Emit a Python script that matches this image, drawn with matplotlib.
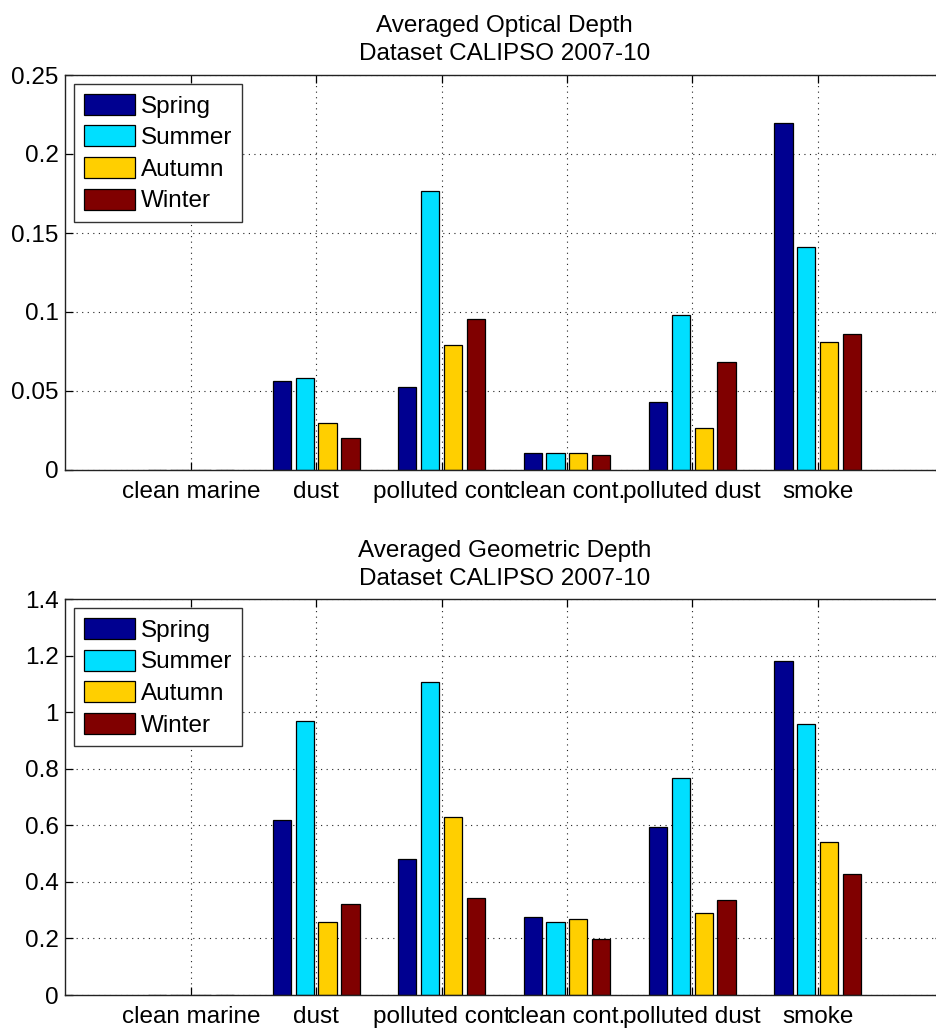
import matplotlib
matplotlib.use("Agg")
import matplotlib.pyplot as plt
import numpy as np

plt.rcParams['font.family'] = ['Liberation Sans', 'DejaVu Sans']

categories = ["clean marine", "dust", "polluted cont", "clean cont.", "polluted dust", "smoke"]
seasons = ["Spring", "Summer", "Autumn", "Winter"]
season_colors = ["#000090", "#00DFFF", "#FFCF00", "#800000"]

# Averaged optical depth per aerosol type (one list per season)
optical_spring = [0.0, 0.0565, 0.0525, 0.0108, 0.0430, 0.2198]
optical_summer = [0.0, 0.0580, 0.1766, 0.0108, 0.0981, 0.1411]
optical_autumn = [0.0, 0.0295, 0.0791, 0.0108, 0.0266, 0.0808]
optical_winter = [0.0, 0.0200, 0.0958, 0.0093, 0.0684, 0.0863]

# Averaged geometric depth per aerosol type
geometric_spring = [0.0, 0.620, 0.480, 0.276, 0.596, 1.181]
geometric_summer = [0.0, 0.968, 1.109, 0.258, 0.767, 0.960]
geometric_autumn = [0.0, 0.258, 0.630, 0.269, 0.290, 0.541]
geometric_winter = [0.0, 0.321, 0.343, 0.198, 0.335, 0.427]

optical_ticks = [0, 0.05, 0.1, 0.15, 0.2, 0.25]
optical_ticklabels = ["0", "0.05", "0.1", "0.15", "0.2", "0.25"]
geometric_ticks = [0, 0.2, 0.4, 0.6, 0.8, 1.0, 1.2, 1.4]
geometric_ticklabels = ["0", "0.2", "0.4", "0.6", "0.8", "1", "1.2", "1.4"]

FS = 17.5

fig = plt.figure(figsize=(9.37, 10.28), dpi=100)
W, H = 937.0, 1028.0


def make_axes(left_px, top_px, right_px, bottom_px):
    return fig.add_axes([left_px / W, 1 - bottom_px / H,
                         (right_px - left_px) / W, (bottom_px - top_px) / H])


def grouped_bars(ax, series, title, ticks, ticklabels, ymax):
    x = np.arange(1, len(categories) + 1)
    group_w = len(series) / (len(series) + 1.5)
    step = group_w / len(series)
    bw = 0.8 * step
    for i, (vals, name, col) in enumerate(zip(series, seasons, season_colors)):
        off = (i - (len(series) - 1) / 2) * step
        ax.bar(x + off, vals, width=bw, color=col, edgecolor="black",
               linewidth=0.9, label=name, zorder=2)
    ax.set_xlim(0, len(categories) + 1)
    ax.set_ylim(0, ymax)
    ax.set_xticks(x)
    ax.set_xticklabels(categories, fontsize=FS)
    ax.set_yticks(ticks)
    ax.set_yticklabels(ticklabels, fontsize=FS)
    ax.set_axisbelow(True)
    ax.grid(True, color="#222222", linestyle=(0, (1, 4)), linewidth=0.8)
    ax.tick_params(direction="in", length=6, width=0.9, top=True, right=True,
                   colors="black")
    ax.tick_params(axis="y", pad=5)
    ax.tick_params(axis="x", pad=8)
    for s in ax.spines.values():
        s.set_linewidth(1.0)
        s.set_color("#222222")
    ax.set_title(title, fontsize=FS, pad=10.5, linespacing=1.35)
    leg = ax.legend(loc="upper left", bbox_to_anchor=(9 / 877.5, 1 - 9 / 395.0),
                    borderaxespad=0, fontsize=FS, fancybox=False,
                    edgecolor="#333333", framealpha=1, handlelength=2.1,
                    handleheight=0.95, handletextpad=0.25, labelspacing=0.32,
                    borderpad=0.4)
    leg.get_frame().set_linewidth(1.0)
    return ax


ax1 = make_axes(65.5, 75, 943, 470)
grouped_bars(ax1, [optical_spring, optical_summer, optical_autumn, optical_winter],
             "Averaged Optical Depth\nDataset CALIPSO 2007-10",
             optical_ticks, optical_ticklabels, 0.25)

ax2 = make_axes(65.5, 599.3, 943, 995)
grouped_bars(ax2, [geometric_spring, geometric_summer, geometric_autumn, geometric_winter],
             "Averaged Geometric Depth\nDataset CALIPSO 2007-10",
             geometric_ticks, geometric_ticklabels, 1.4)

fig.savefig("out.png", dpi=100)
